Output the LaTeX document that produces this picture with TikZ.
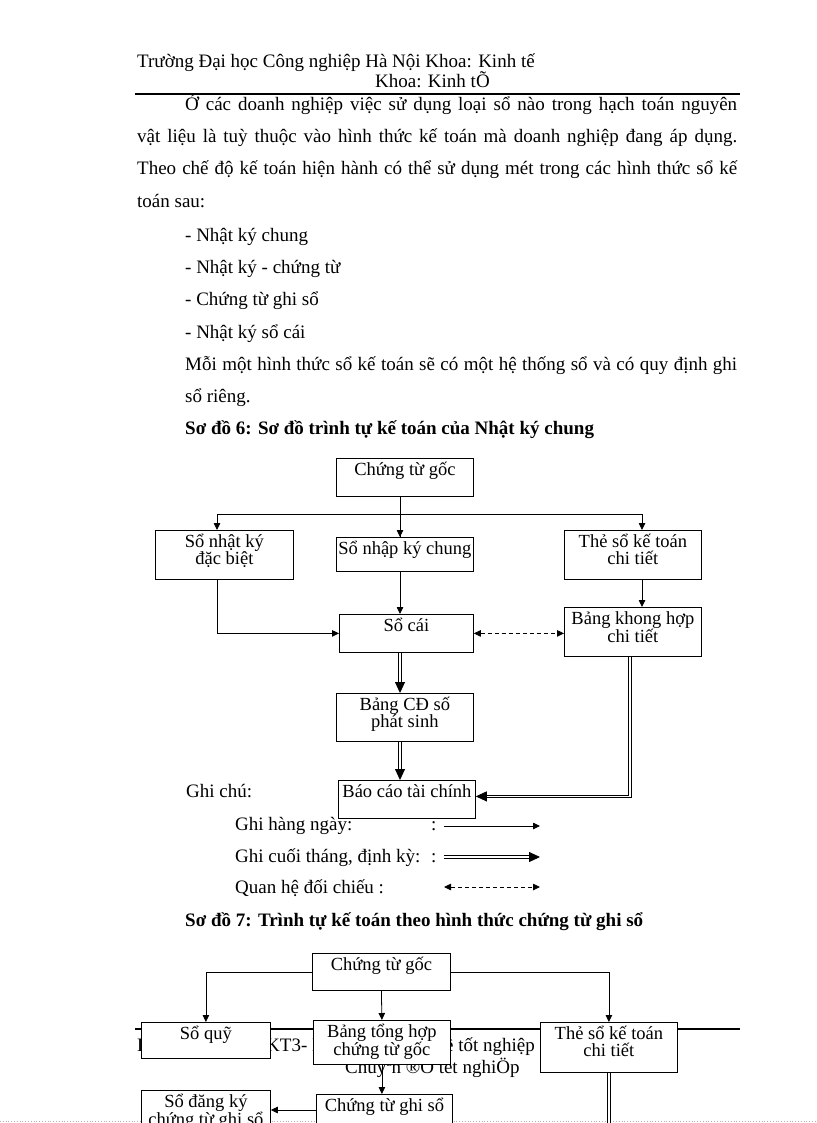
\documentclass[tikz,border=0pt]{standalone}
\usepackage{fontspec}
\setmainfont{Liberation Serif}
\usetikzlibrary{arrows.meta,calc}
\newcommand\bst{\rule{0pt}{15pt}}
\newcommand\mkbox[6]{%
  \node[boxs, minimum width=#4pt, minimum height=#5pt, anchor=north west] (#1) at (#2,#3) {};
  \node[boxt, anchor=north] (#1t) at ([yshift=-2pt]#1.north) {\bst #6};
}
\begin{document}
\begin{tikzpicture}[x=1pt,y=-1pt,
  boxs/.style={draw, fill=white, line width=0.8pt, inner sep=0pt},
  boxt/.style={inner sep=0pt, align=center, font=\fontsize{18.5}{17}\selectfont},
  body/.style={inner sep=0pt, anchor=base west, font=\fontsize{19}{19}\selectfont},
  arr/.style={draw, line width=0.8pt, -{Triangle[length=7pt,width=6.5pt]}},
  dsh/.style={draw, line width=0.8pt, dashed, dash pattern=on 4pt off 3pt, {Triangle[length=7pt,width=6.5pt]}-{Triangle[length=7pt,width=6.5pt]}},
  dbl/.style={draw, line width=0.9pt, double distance=1.7pt, -{Triangle[length=11pt,width=10pt]}},
  dblx/.style={draw, line width=0.9pt, double distance=1.7pt},
]
\useasboundingbox (0,0) rectangle (816,1123);
\clip (0,0) rectangle (816,1123);
\fill[white] (0,0) rectangle (816,1123);

% header
\node[body] (h1) at (137,68) {Trường Đại học Công nghiệp Hà Nội Khoa: Kinh tế};
\node[body] (h2) at (375,88) {Khoa: Kinh tÕ};
\draw[line width=2.2pt] (135,94) -- (740,94);

% paragraph
\node[body] (p1) at (185,111) {\makebox[552pt][s]{Ở các doanh nghiệp việc sử dụng loại sổ nào trong hạch toán nguyên}};
\node[body] (p2) at (137,143) {\makebox[600pt][s]{vật liệu là tuỳ thuộc vào hình thức kế toán mà doanh nghiệp đang áp dụng.}};
\node[body] (p3) at (137,175) {\makebox[600pt][s]{Theo chế độ kế toán hiện hành có thể sử dụng mét trong các hình thức sổ kế}};
\node[body] (p4) at (137,208) {toán sau:};
\node[body] (l1) at (185,241) {- Nhật ký chung};
\node[body] (l2) at (185,273) {- Nhật ký - chứng từ};
\node[body] (l3) at (185,305) {- Chứng từ ghi sổ};
\node[body] (l4) at (185,338) {- Nhật ký sổ cái};
\node[body] (p5) at (185,370) {\makebox[552pt][s]{Mỗi một hình thức sổ kế toán sẽ có một hệ thống sổ và có quy định ghi}};
\node[body] (p6) at (185,402) {sổ riêng.};
\node[body, font=\fontsize{19}{19}\selectfont\bfseries] (t6) at (185,434) {Sơ đồ 6: Sơ đồ trình tự kế toán của Nhật ký chung};

% diagram 6
\mkbox{ctg}{336}{458}{137}{38}{Chứng từ gốc}
\mkbox{sd}{155}{530}{138}{49}{Sổ nhật ký\\đặc biệt}
\mkbox{sn}{336}{537}{137}{34}{Sổ nhập ký chung}
\mkbox{the}{564}{530}{137}{49}{Thẻ sổ kế toán\\chi tiết}
\mkbox{sc}{339}{614}{134}{38}{Sổ cái}
\mkbox{bk}{564}{607}{137}{49}{Bảng khong hợp\\chi tiết}
\mkbox{cd}{336}{693}{137}{48}{Bảng CĐ số\\phát sinh}

\coordinate (spine) at (400,0);
\coordinate (hl) at (217,514);
\coordinate (hr) at (642,514);
\draw[line width=0.8pt] (spine |- ctg.south) -- (spine |- sn.north);
\draw[line width=0.8pt] (hl) -- (hr);
\draw[arr] (spine |- hl) -- (spine |- sn.north);
\draw[arr] (hl) -- (hl |- sd.north);
\draw[arr] (hr) -- (hr |- the.north);
\draw[arr] (spine |- sn.south) -- (spine |- sc.north);
\draw[arr] (hl |- sd.south) |- (sc.west);
\draw[arr] (hr |- the.south) -- (hr |- bk.north);
\draw[dsh] (sc.east) -- (sc.east -| bk.west);
\draw[dbl] (spine |- sc.south) -- (spine |- cd.north);

% legend
\node[body] (g0) at (186,797) {Ghi chú:};
\mkbox{bc}{338}{780}{137}{38}{Báo cáo tài chính}
\draw[dbl] (spine |- cd.south) -- (spine |- bc.north);
\coordinate (bkx) at (630,0);
\draw[dbl] (bkx |- bk.south) |- ([yshift=3pt]bc.east);

\node[body] (g1) at (235,830) {Ghi hàng ngày:};
\node[body] (g1c) at (431,830) {:};
\node[body] (g2) at (235,862) {Ghi cuối tháng, định kỳ:};
\node[body] (g2c) at (431,862) {:};
\node[body] (g3) at (235,893) {Quan hệ đối chiếu :};
\coordinate (a1s) at (444,826); \coordinate (a1e) at (540,826);
\coordinate (a2s) at (444,857); \coordinate (a2e) at (540,857);
\coordinate (a3s) at (444,887); \coordinate (a3e) at (540,887);
\draw[arr] (a1s) -- (a1e);
\draw[dbl] (a2s) -- (a2e);
\draw[dsh] (a3s) -- (a3e);

% diagram 7
\node[body, font=\fontsize{19}{19}\selectfont\bfseries] (t7) at (185,926) {Sơ đồ 7: Trình tự kế toán theo hình thức chứng từ ghi sổ};

% footer (partly hidden)
\draw[gray!60, dotted, line width=0.8pt] (0,1121) -- (816,1121);
\draw[line width=2.2pt] (135,1029) -- (740,1029);
\node[body] (f1) at (137,1051) {Lớp};
\node[body] (f2) at (266,1051) {KT3- Lê Thị};
\node[body, anchor=base east] (f3) at (535,1051) {Chuyên đề tốt nghiệp};
\node[body] (f4) at (345,1073) {Chuyªn ®Ò tèt nghiÖp};

\mkbox{ctg7}{312}{953}{138}{37}{Chứng từ gốc}
\mkbox{sq}{141}{1022}{129}{36}{Sổ quỹ}
\mkbox{bth}{313}{1020}{137}{44}{Bảng tổng hợp\\chứng từ gốc}
\mkbox{the7}{540}{1022}{137}{50}{Thẻ sổ kế toán\\chi tiết}
\mkbox{ctgs}{316}{1094}{136}{50}{Chứng từ ghi sổ}
\mkbox{sdk}{141}{1090}{129}{50}{Sổ đăng ký\\chứng từ ghi sổ}

\draw[arr] (ctg7.west) -| (sq.north);
\draw[arr] (ctg7.east) -| (the7.north);
\draw[arr] (ctg7.south) -- (bth.north);
\draw[arr] (bth.south) -- (bth.south |- ctgs.north);
\draw[arr] ([yshift=-16pt]ctgs.north west) -- ([yshift=-16pt]ctgs.north west -| sdk.east);
\coordinate (bot) at (0,1140);
\draw[dblx] (the7.south) -- (the7.south |- bot);
\end{tikzpicture}
\end{document}
